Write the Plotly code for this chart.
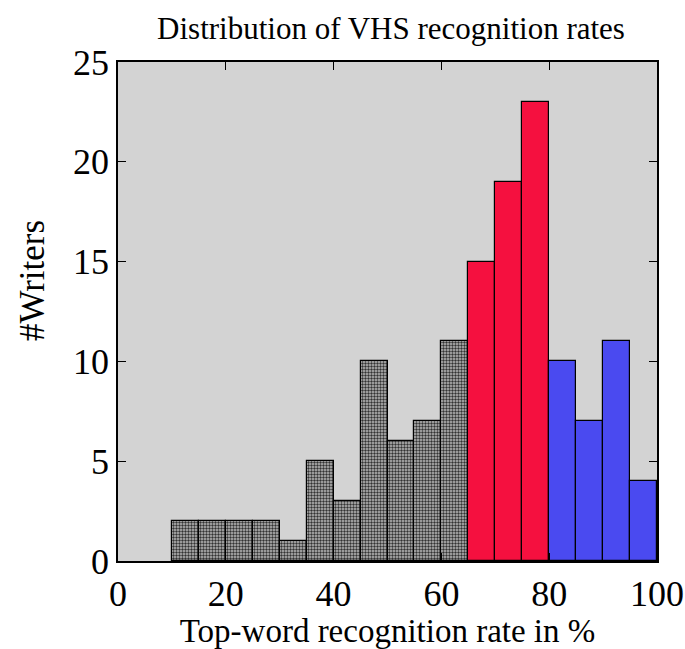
import plotly.graph_objects as go

# bin centers (width 5) and counts
gray_x = [12.5, 17.5, 22.5, 27.5, 32.5, 37.5, 42.5, 47.5, 52.5, 57.5, 62.5]
gray_y = [2, 2, 2, 2, 1, 5, 3, 10, 6, 7, 11]
red_x = [67.5, 72.5, 77.5]
red_y = [15, 19, 23]
blue_x = [82.5, 87.5, 92.5, 97.5]
blue_y = [10, 7, 11, 4]
x_ticks = [0, 20, 40, 60, 80, 100]
y_ticks = [0, 5, 10, 15, 20, 25]

FONT = "Liberation Serif"
line = dict(color="black", width=1.2)

L, R, T, B = 118, 657, 62, 561
W, H = 685, 649

fig = go.Figure()
fig.add_trace(go.Bar(x=gray_x, y=gray_y, width=5,
                     marker=dict(color="#8a8a8a", line=line,
                                 pattern=dict(shape=".", size=3, solidity=0.5,
                                              fgcolor="#333333", bgcolor="#bdbdbd",
                                              fillmode="replace"))))
fig.add_trace(go.Bar(x=red_x, y=red_y, width=5,
                     marker=dict(color="#f5103f", line=line)))
fig.add_trace(go.Bar(x=blue_x, y=blue_y, width=5,
                     marker=dict(color="#4a4af0", line=line)))

fig.update_layout(
    width=W, height=H,
    margin=dict(l=L, r=W - R, t=T, b=H - B, autoexpand=False),
    paper_bgcolor="white", plot_bgcolor="#d3d3d3",
    showlegend=False, barmode="overlay", bargap=0,
    title=dict(text="Distribution of VHS recognition rates",
               x=391 / W, xanchor="center", y=1 - 28 / H, yanchor="middle",
               font=dict(family=FONT, size=31, color="black")),
    font=dict(family=FONT, color="black"),
    annotations=[dict(text="#Writers", textangle=-90, showarrow=False,
                      xref="paper", yref="paper",
                      x=(32 - L) / (R - L), y=(B - 281) / (B - T),
                      xanchor="center", yanchor="middle",
                      font=dict(family=FONT, size=35, color="black"))],
)
fig.update_xaxes(range=[0, 100], tickvals=x_ticks, ticktext=[str(v) for v in x_ticks],
                 ticks="inside", ticklen=8, tickcolor="black", tickwidth=1,
                 showline=True, linecolor="black", linewidth=1.5, mirror="ticks",
                 showgrid=False, zeroline=False, automargin=False,
                 tickfont=dict(family=FONT, size=36, color="black"),
                 title=dict(text="Top-word recognition rate in %",
                            font=dict(family=FONT, size=33, color="black"), standoff=0))
fig.update_yaxes(range=[0, 25], tickvals=y_ticks, ticktext=[str(v) for v in y_ticks],
                 ticks="inside", ticklen=8, tickcolor="black", tickwidth=1,
                 showline=True, linecolor="black", linewidth=1.5, mirror="ticks",
                 showgrid=False, zeroline=False, automargin=False,
                 tickfont=dict(family=FONT, size=36, color="black"))

fig.write_html("out.html")
